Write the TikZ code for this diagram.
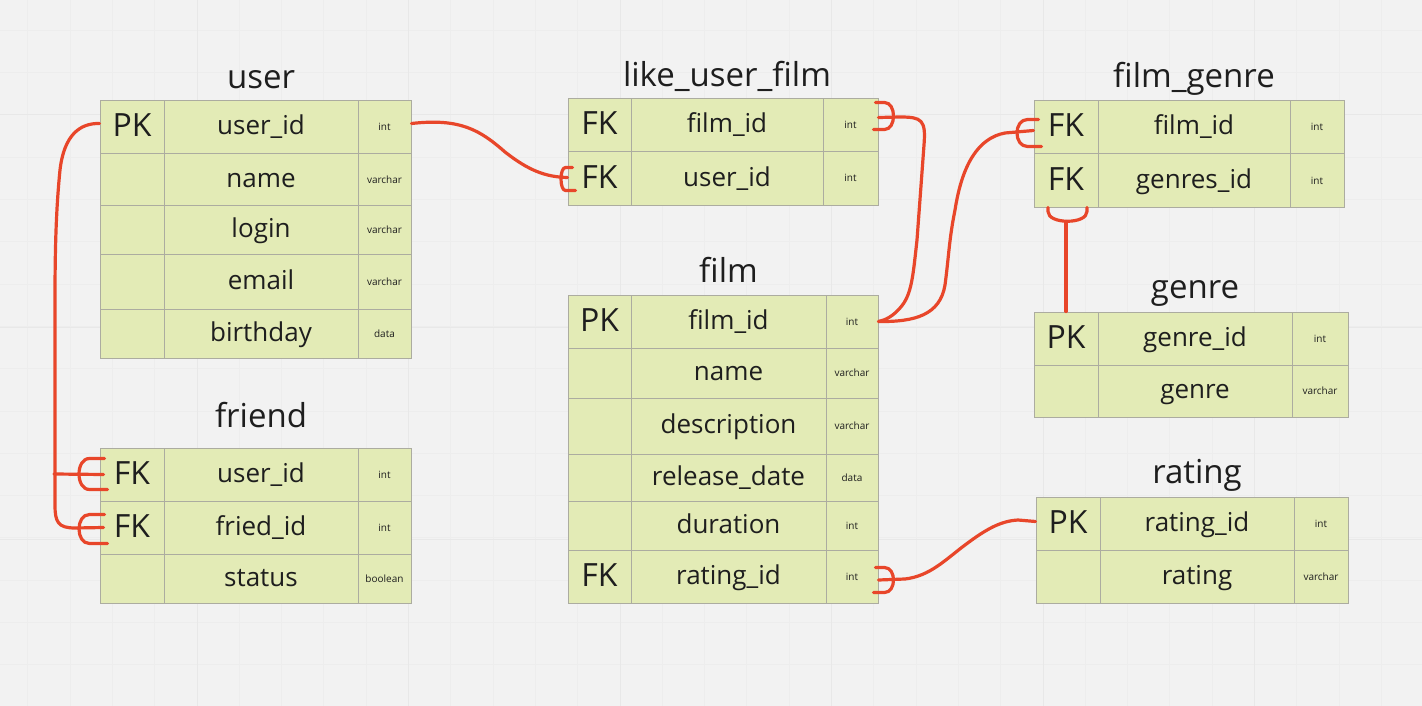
\documentclass[tikz,border=0pt]{standalone}
\usepackage{fontspec}
\setmainfont{Open Sans}
\usetikzlibrary{calc}
\definecolor{bg}{RGB}{242,242,242}
\definecolor{gridminor}{RGB}{237,237,237}
\definecolor{gridmajor}{RGB}{232,232,232}
\definecolor{cellfill}{RGB}{227,235,182}
\definecolor{cellline}{RGB}{172,172,160}
\definecolor{ink}{RGB}{30,30,30}
\definecolor{rel}{RGB}{232,70,42}
\tikzset{
  cell/.style={draw=cellline, fill=cellfill, line width=1pt, inner sep=0pt, text=ink, align=center},
  keytxt/.style={font=\fontsize{32}{36}\selectfont, text height=23pt, text depth=4pt},
  fieldtxt/.style={font=\fontsize{26}{30}\selectfont, text height=19pt, text depth=4pt},
  typetxt/.style={font=\fontsize{10}{12}\selectfont, text height=8pt, text depth=1pt},
  title/.style={font=\fontsize{33}{38}\selectfont, text=ink, anchor=base, inner sep=0pt},
  relline/.style={draw=rel, line width=3.2pt, line cap=round, line join=round},
}
% row: #1 id, #2 ytop, #3 ybot, #4 key, #5 field, #6 type ; columns \xa \xb \xc \xd
\newcommand\erow[6]{%
  \node[cell, keytxt, minimum width={(\xb-\xa)*1pt}, minimum height={(#3-#2)*1pt}] (#1k) at ({(\xa+\xb)/2},{(#2+#3)/2}) {#4};
  \node[cell, fieldtxt, minimum width={(\xc-\xb)*1pt}, minimum height={(#3-#2)*1pt}] (#1n) at ({(\xb+\xc)/2},{(#2+#3)/2}) {#5};
  \node[cell, typetxt, minimum width={(\xd-\xc)*1pt}, minimum height={(#3-#2)*1pt}] (#1t) at ({(\xc+\xd)/2},{(#2+#3)/2}) {#6};
}
% crow's foot opening to the right (on a west anchor)
\newcommand\crowL[5]{\draw[relline] ([shift={(5,#2)}]#1) -- ([shift={(#4,#2)}]#1) .. controls +(-#5,0) and +(-#5,0) .. ([shift={(#4,#3)}]#1) -- ([shift={(8,#3)}]#1);}
% crow's foot opening to the left (on an east anchor)
\newcommand\crowR[5]{\draw[relline] ([shift={(-3,#2)}]#1) -- ([shift={(#4,#2)}]#1) .. controls +(#5,0) and +(#5,0) .. ([shift={(#4,#3)}]#1) -- ([shift={(-5,#3)}]#1);}
\begin{document}
\begin{tikzpicture}[x=1pt,y=-1pt]
\useasboundingbox (0,0) rectangle (1422,706);
\fill[bg] (0,0) rectangle (1422,706);
% grid
\foreach \i in {0,...,34} {\draw[gridminor, line width=1pt] ({-14.5+42.3*\i},0) -- ({-14.5+42.3*\i},706);}
\foreach \i in {0,...,17} {\draw[gridminor, line width=1pt] (0,{-12+42.3*\i}) -- (1422,{-12+42.3*\i});}
\foreach \v in {197,408.5,620,831.5,1043,1254.5} {\draw[gridmajor, line width=1pt] (\v,0) -- (\v,706);}
\foreach \v in {115,327,539} {\draw[gridmajor, line width=1pt] (0,\v) -- (1422,\v);}

% user
\def\xa{100}\def\xb{164}\def\xc{358}\def\xd{411}
\node[title] (tuser) at (261,89) {user};
\erow{u1}{101}{154}{PK}{user\_id}{int}
\erow{u2}{154}{205}{}{name}{varchar}
\erow{u3}{205}{254}{}{login}{varchar}
\erow{u4}{254}{309}{}{email}{varchar}
\erow{u5}{309}{358}{}{birthday}{data}

% friend
\node[title] (tfriend) at (261,427) {friend};
\erow{fr1}{448}{501}{FK}{user\_id}{int}
\erow{fr2}{501}{554}{FK}{fried\_id}{int}
\erow{fr3}{554}{603}{}{status}{boolean}

% like_user_film
\def\xa{568}\def\xb{631}\def\xc{823}\def\xd{878}
\node[title] (tlike) at (727,87) {like\_user\_film};
\erow{l1}{99}{152}{FK}{film\_id}{int}
\erow{l2}{152}{205}{FK}{user\_id}{int}

% film
\def\xa{568}\def\xb{631}\def\xc{826}\def\xd{878}
\node[title] (tfilm) at (728.5,282) {film};
\erow{fm1}{295}{348}{PK}{film\_id}{int}
\erow{fm2}{348}{398}{}{name}{varchar}
\erow{fm3}{398}{454}{}{description}{varchar}
\erow{fm4}{454}{501}{}{release\_date}{data}
\erow{fm5}{501}{550}{}{duration}{int}
\erow{fm6}{550}{603}{FK}{rating\_id}{int}

% film_genre
\def\xa{1034}\def\xb{1098}\def\xc{1290}\def\xd{1344}
\node[title] (tfg) at (1194,88) {film\_genre};
\erow{g1}{101}{154}{FK}{film\_id}{int}
\erow{g2}{154}{207}{FK}{genres\_id}{int}

% genre
\def\xa{1034}\def\xb{1098}\def\xc{1292}\def\xd{1348}
\node[title] (tgenre) at (1195,298) {genre};
\erow{ge1}{312}{365}{PK}{genre\_id}{int}
\erow{ge2}{365}{417}{}{genre}{varchar}

% rating
\def\xa{1036}\def\xb{1100}\def\xc{1294}\def\xd{1348}
\node[title] (trating) at (1197,483) {rating};
\erow{ra1}{497}{550}{PK}{rating\_id}{int}
\erow{ra2}{550}{603}{}{rating}{varchar}

% ---- relations ----
% user -> friend
\draw[relline] ([yshift=4pt]u1k.west) .. controls (80,123) and (64,135) .. (60,170)
  .. controls (56,210) and (55,250) .. (55,300) -- (55,505)
  .. controls (55,522) and (58,528) .. (75,528) -- ([xshift=4pt]fr2k.west);
\coordinate (trunk1) at (54,474);
\draw[relline] (trunk1) -- ([xshift=4pt]fr1k.west);
\crowL{fr1k.west}{-16}{15}{-10}{14}
\crowL{fr2k.west}{-13}{16}{-10}{14}

% user -> like_user_film
\draw[relline] ([yshift=4pt]u1t.east) .. controls (460,118) and (480,130) .. (505,152)
  .. controls (528,170) and (545,177) .. ([yshift=1pt]l2k.west);
\crowL{l2k.west}{-11}{12}{-2}{6}

% film -> like_user_film
\draw[relline] ([yshift=8pt]l1t.east) -- (900,117) .. controls (922,117) and (926,120) .. (924,145)
  -- (917,240) .. controls (913,275) and (912,295) .. (900,308)
  .. controls (893,316) and (886,320) .. (fm1t.east);
\crowR{l1t.east}{-23}{4}{6}{12}

% film -> film_genre
\draw[relline] (fm1t.east) .. controls (915,322) and (940,315) .. (945,285)
  .. controls (949,255) and (949,240) .. (955,210)
  .. controls (962,165) and (978,138) .. (1005,133) -- ([yshift=-3pt]g1k.west);
\crowL{g1k.west}{-8}{19}{-6}{14}

% genre -> film_genre
\draw[relline] (ge1k.north) -- ([yshift=-14pt]g2k.south);
\draw[relline] ([shift={(-18,0)}]g2k.south) -- ([shift={(-18,4)}]g2k.south)
  .. controls +(0,13) and +(0,13) .. ([shift={(21,4)}]g2k.south) -- ([shift={(21,0)}]g2k.south);

% rating -> film
\draw[relline] ([yshift=-3.5pt]fm6t.east) -- (905,579) .. controls (930,576) and (945,560) .. (965,545)
  .. controls (985,530) and (1000,521) .. (1018,520) -- ([yshift=2pt]ra1k.west);
\crowR{fm6t.east}{-9}{16}{6}{12}
\end{tikzpicture}
\end{document}
